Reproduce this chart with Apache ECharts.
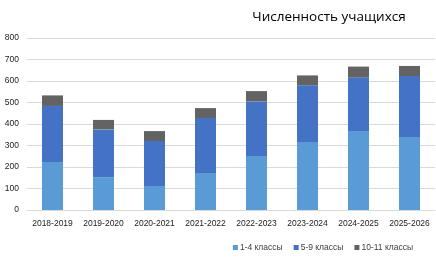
<!DOCTYPE html>
<html><head><meta charset="utf-8">
<script src="https://cdn.jsdelivr.net/npm/echarts@6/dist/echarts.min.js"></script>
<style>html,body{margin:0;padding:0;background:#fff}#c{width:436px;height:261px}</style>
</head><body><div id="c"></div>
<script>
var categories = ['2018-2019','2019-2020','2020-2021','2021-2022','2022-2023','2023-2024','2024-2025','2025-2026'];
var grades1to4 = [223,153,112,172,251,316,367,340];
var grades5to9 = [261,222,209,256,254,264,250,283];
var grades10to11 = [49,44,46,46,48,46,50,47];
var seriesNames = ['1-4 классы','5-9 классы','10-11 классы'];
var yTicks = {min:0, max:800, interval:100};

var chart = echarts.init(document.getElementById('c'), null, {renderer:'canvas'});
var font = 'Liberation Sans, Arial, sans-serif';
function s(name, data, color){
  return {name:name, type:'bar', stack:'t', data:data, barWidth:21,
    itemStyle:{color:color}, emphasis:{disabled:true}};
}
chart.setOption({
  animation:false,
  title:{text:'Численность учащихся', left:324, top:5, textAlign:'center',
    textStyle:{fontFamily:'Open Sans, sans-serif', fontSize:13.5, fontWeight:'normal', color:'#000'}},
  grid:{left:27, right:1, top:38, bottom:51, containLabel:false},
  legend:{data:seriesNames, right:18, top:238, itemWidth:5, itemHeight:5, itemGap:11,
    icon:'rect', textStyle:{fontSize:8.5, color:'#404040', fontFamily:font, padding:[0,0,0,-3]}},
  xAxis:{type:'category', data:categories,
    axisLine:{lineStyle:{color:'#d9d9d9'}}, axisTick:{show:false},
    axisLabel:{fontSize:8.5, color:'#222', fontFamily:font, margin:9, interval:0}},
  yAxis:{type:'value', min:yTicks.min, max:yTicks.max, interval:yTicks.interval,
    axisLine:{show:false}, axisTick:{show:false},
    splitLine:{lineStyle:{color:'#d9d9d9', width:1}},
    axisLabel:{fontSize:8.5, color:'#222', fontFamily:font, margin:8}},
  series:[s(seriesNames[0], grades1to4, '#5B9BD5'), s(seriesNames[1], grades5to9, '#4472C4'), s(seriesNames[2], grades10to11, '#636363')]
});
</script></body></html>
